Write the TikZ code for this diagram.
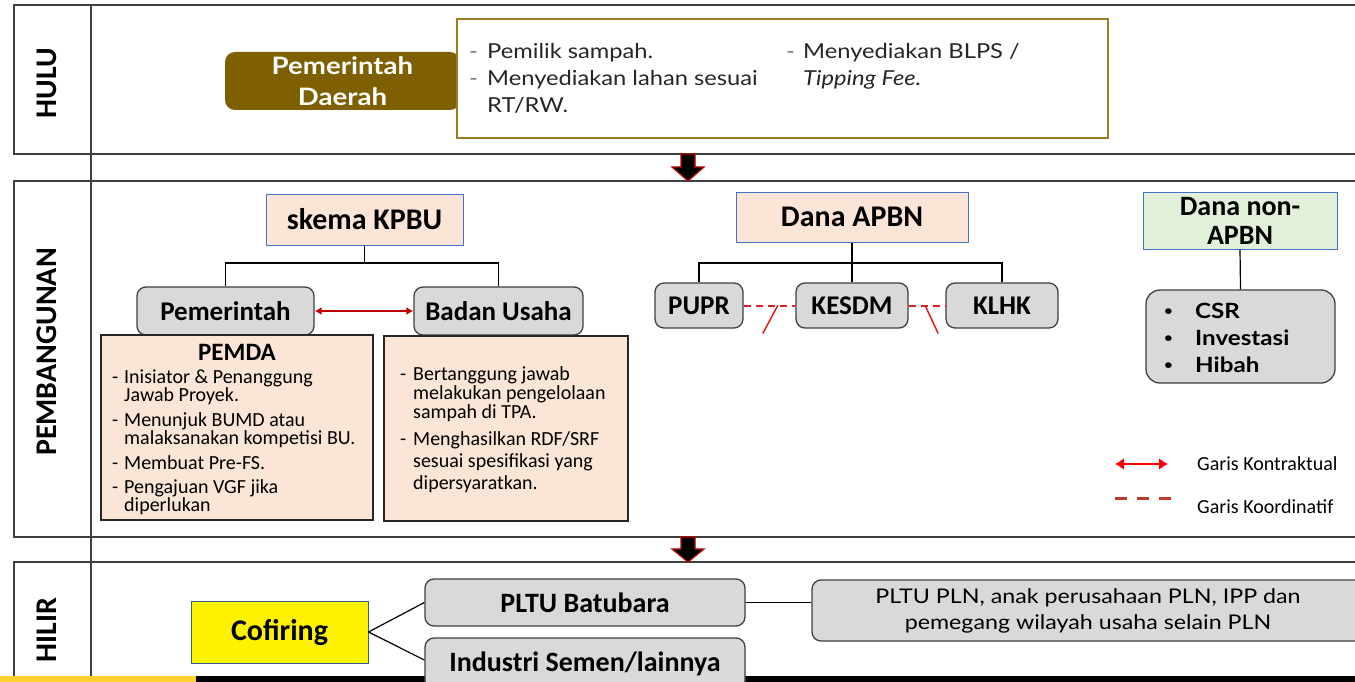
\documentclass[tikz,border=0pt]{standalone}
\usepackage{fontspec}
\setmainfont{Carlito}
\newfontfamily\gill[FakeStretch=1.15]{Lato}
\usetikzlibrary{arrows.meta,calc}
\definecolor{brn}{HTML}{7F6000}
\definecolor{goldb}{HTML}{9C7E22}
\definecolor{peach}{HTML}{FBE5D6}
\definecolor{bluebd}{HTML}{4472C4}
\definecolor{gry}{HTML}{D9D9D9}
\definecolor{grybd}{HTML}{404040}
\definecolor{grn}{HTML}{E2F0D9}
\definecolor{dred}{HTML}{C00000}
\definecolor{legred}{HTML}{C0392B}
\definecolor{coordred}{HTML}{E02020}
\definecolor{footy}{HTML}{FFD22E}
\newcommand\dlist[3]{\vtop{\baselineskip=#2\relax\lineskiplimit=-50pt\relax\lineskip=0pt\relax\halign{\hbox to #1{##\hfil}&##\hfil\cr #3}}}
\newcommand\smbul{\raisebox{3pt}{\fontsize{13}{13}\selectfont\textbullet}}
\begin{document}
\begin{tikzpicture}[x=1pt,y=-1pt,
 band/.style={draw=black!75,line width=1.3pt},
 lane/.style={rotate=90,font=\fontsize{30}{30}\selectfont\bfseries,inner sep=0},
 pbox/.style={draw=bluebd,fill=peach,line width=1pt,inner sep=0,font=\fontsize{30}{30}\selectfont\bfseries},
 gbox/.style={draw=grybd,fill=gry,rounded corners=9pt,line width=1.3pt,inner sep=0,font=\fontsize{27}{27}\selectfont\bfseries},
 tbox/.style={draw=black!85,fill=peach,line width=1.2pt,inner sep=0},
 conn/.style={draw=black,line width=1.2pt},
 txt/.style={inner sep=0,anchor=base west},
 contr/.style={draw=dred,line width=1.5pt,{Latex[length=7pt,width=8pt]}-{Latex[length=7pt,width=8pt]}},
 coordl/.style={draw=coordred,line width=2pt,dash pattern=on 7pt off 5pt},
 slash/.style={draw=coordred,line width=1.5pt},
 blockarr/.style={fill=black,draw=dred,line width=1.2pt,line join=miter}
]
\clip (0,0) rectangle (1355,682);
\fill[white] (0,0) rectangle (1355,682);
% bands
\draw[band] (14,5) rectangle (1365,154);
\draw[band] (14,181) rectangle (1365,537);
\draw[band] (14,562) rectangle (1365,700);
\draw[band] (91,5) -- (91,682);
\node[lane] (lhulu) at (47,83) {HULU};
\node[lane] (lpemb) at (47,352) {PEMBANGUNAN};
\node[lane] (lhilir) at (47,630) {HILIR};
% footer
\fill[footy] (0,676) rectangle (196,682);
\fill[black] (196,676) rectangle (1355,682);
% HULU
\node[fill=brn,rounded corners=10pt,minimum width=235pt,minimum height=58pt,inner sep=0,text=white,align=center,font=\gill\fontsize{24}{31}\selectfont\bfseries] (pd) at (342.5,81) {Pemerintah\\Daerah};
\node[draw=goldb,fill=white,line width=1.5pt,minimum width=651pt,minimum height=119pt,inner sep=0] (hb) at (782.5,78.5) {};
\node[txt,font=\gill\fontsize{20.6}{27}\selectfont,text=black!85] (hb1) at (469,59) {\dlist{18pt}{27pt}{{\color{black!55}-}&Pemilik sampah.\cr {\color{black!55}-}&Menyediakan lahan sesuai\cr &RT/RW.\cr}};
\node[txt,font=\gill\fontsize{20.6}{27}\selectfont,text=black!85] (hb2) at (786,59) {\dlist{17pt}{27pt}{{\color{black!55}-}&Menyediakan BLPS /\cr &\textit{Tipping Fee.}\cr}};
\draw[blockarr] (681,154) -- (695,154) -- (695,167) -- (704,167) -- (688,181) -- (672,167) -- (681,167) -- cycle;
% PEMBANGUNAN - KPBU
\node[pbox,minimum width=197pt,minimum height=51pt] (kpbu) at (364.5,219.5) {skema KPBU};
\node[gbox,minimum width=177pt,minimum height=48pt] (pem) at (225.5,311) {Pemerintah};
\node[gbox,minimum width=169pt,minimum height=48pt] (bu) at (498.5,311) {Badan Usaha};
\coordinate (kj) at (364.5,263);
\draw[conn] (kpbu.south) -- (kj);
\draw[conn] (pem.north) |- (kj) -| (bu.north);
\draw[contr] (pem.east) -- (bu.west);
\node[tbox,minimum width=272pt,minimum height=185pt] (pemda) at (237,427.5) {};
\node[tbox,minimum width=244pt,minimum height=185pt] (butx) at (506,428.5) {};
\node[font=\fontsize{25}{25}\selectfont\bfseries,inner sep=0,anchor=base] (pemdat) at (237,360) {PEMDA};
\node[txt,font=\fontsize{20}{18}\selectfont] (pemdal) at (112,383) {\dlist{12pt}{18pt}{-&Inisiator \& Penanggung\cr &Jawab Proyek.\cr\noalign{\vskip7pt} -&Menunjuk BUMD atau\cr &malaksanakan kompetisi BU.\cr\noalign{\vskip7pt} -&Membuat Pre-FS.\cr\noalign{\vskip6pt} -&Pengajuan VGF jika\cr &diperlukan\cr}};
\node[txt,font=\fontsize{20}{19}\selectfont] (bul) at (400,380) {\dlist{13pt}{19pt}{-&Bertanggung jawab\cr &melakukan pengelolaan\cr &sampah di TPA.\cr\noalign{\vskip8pt} -&Menghasilkan RDF/SRF\cr\noalign{\vskip3pt} &sesuai spesifikasi yang\cr\noalign{\vskip3pt} &dipersyaratkan.\cr}};
% APBN
\node[pbox,minimum width=232pt,minimum height=50pt] (apbn) at (852,217) {Dana APBN};
\node[gbox,minimum width=88pt,minimum height=45pt] (pupr) at (699,305.5) {PUPR};
\node[gbox,minimum width=112pt,minimum height=45pt] (kesdm) at (852,305.5) {KESDM};
\node[gbox,minimum width=112pt,minimum height=45pt] (klhk) at (1002,305.5) {KLHK};
\coordinate (aj) at (852,263);
\draw[conn] (apbn.south) -- (kesdm.north);
\draw[conn] (pupr.north) |- (aj) -| (klhk.north);
\draw[coordl] (pupr.east) -- (kesdm.west);
\draw[coordl] (kesdm.east) -- (klhk.west);
\draw[slash] ($(pupr.east)!0.66!(kesdm.west)$) -- ++(-15,28);
\draw[slash] ($(kesdm.east)!0.45!(klhk.west)$) -- ++(13,28);
% non APBN
\node[pbox,fill=grn,minimum width=194pt,minimum height=57pt,align=center,font=\fontsize{28}{29}\selectfont\bfseries] (napbn) at (1240,220.5) {Dana non-\\APBN};
\node[gbox,rounded corners=14pt,minimum width=189pt,minimum height=93pt] (csr) at (1240.5,336.5) {};
\draw[conn] (napbn.south) -- (csr.north);
\node[txt,font=\gill\fontsize{21}{27}\selectfont\bfseries] (csrl) at (1164,318) {\dlist{31pt}{27pt}{\smbul&CSR\cr \smbul&Investasi\cr \smbul&Hibah\cr}};
% legend
\coordinate (lg1a) at (1115,464);
\coordinate (lg1b) at (1168,464);
\draw[draw=red,line width=2.5pt,{Latex[length=9pt,width=12pt]}-{Latex[length=9pt,width=12pt]}] (lg1a) -- (lg1b);
\node[txt,font=\fontsize{20}{20}\selectfont] (lg1t) at (1197,470) {Garis Kontraktual};
\coordinate (lg2a) at (1115,498);
\coordinate (lg2b) at (1172,498);
\draw[draw=legred,line width=3pt,dash pattern=on 12pt off 10pt] (lg2a) -- (lg2b);
\node[txt,font=\fontsize{20}{20}\selectfont] (lg2t) at (1197,513) {Garis Koordinatif};
\draw[blockarr] (681,537) -- (695,537) -- (695,549) -- (704,549) -- (688,562) -- (672,549) -- (681,549) -- cycle;
% HILIR
\node[draw=bluebd!80!black,fill=yellow,line width=1pt,minimum width=177pt,minimum height=62pt,inner sep=0,font=\fontsize{30}{30}\selectfont\bfseries] (cof) at (279.5,632) {Cofiring};
\node[gbox,minimum width=320pt,minimum height=47pt,font=\fontsize{28}{28}\selectfont\bfseries] (pltu) at (585,602.5) {PLTU Batubara};
\node[gbox,minimum width=320pt,minimum height=52pt,font=\fontsize{28}{28}\selectfont\bfseries] (ind) at (585,664) {Industri Semen/lainnya};
\node[gbox,minimum width=552pt,minimum height=61pt,align=center,font=\gill\fontsize{20.2}{26}\selectfont] (pln) at (1088,610.5) {PLTU PLN, anak perusahaan PLN, IPP dan\\pemegang wilayah usaha selain PLN};
\draw[conn] (cof.east) -- (pltu.west);
\draw[conn] (cof.east) -- ([yshift=4pt]ind.west);
\draw[conn] (pltu.east) -- (pltu.east -| pln.west);
\end{tikzpicture}
\end{document}
